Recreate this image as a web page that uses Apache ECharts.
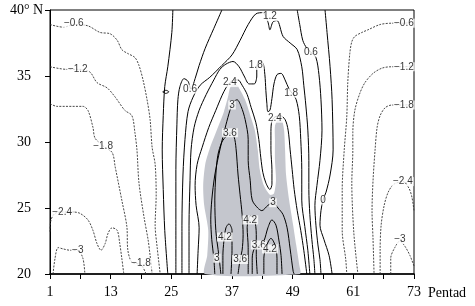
<!DOCTYPE html>
<html><head><meta charset="utf-8">
<script src="https://cdn.jsdelivr.net/npm/echarts@6/dist/echarts.min.js"></script>
<style>html,body{margin:0;padding:0;background:#fff}#c{width:475px;height:306px}</style>
</head><body><div id="c"></div>
<script>
const pentadTicks = [1, 13, 25, 37, 49, 61, 73];
const latTicks = [20, 25, 30, 35, 40];

// contour lines, points as [pentad, latitude]
const cM30L = [[1.6,20],[2.0,21.2],[2.6,22.0],[3.6,21.9],[5.0,21.8],[6.5,21.8],[7.5,21.2],[7.9,20]];
const cM24L = [[1,23.2],[1.2,24.1],[2.0,24.6],[3.4,24.7],[5.4,24.7],[6.9,24.6],[8.5,24.1],[9.5,23.3],[10.3,22.3],[11.1,21.8],[11.9,22.3],[12.5,23.1],[13.3,23.5],[14.3,23.3],[14.8,22.3],[15.2,21.2],[15.6,20]];
const cM18L = [[1,32.9],[2.4,32.7],[7.5,32.7],[8.5,32.4],[9.5,31.1],[9.9,30.3],[11.5,29.7],[13.3,29.2],[13.9,28.1],[15.2,25.6],[16.2,23.6],[16.4,21.8],[17.2,20.9],[19.0,20.7],[20.0,20]];
const cM12L = [[1,35.7],[4.4,35.5],[6.9,35.5],[8.9,35.3],[10.3,34.5],[12.3,34.1],[13.9,33.4],[15.8,32.4],[17.2,32.0],[17.8,30.7],[18.2,29.4],[18.6,26.9],[19.6,24.3],[20.4,22.6],[20.8,21.4],[21.2,20]];
const cM06L = [[1,38.9],[3.6,38.7],[5.9,38.9],[8.5,38.8],[10.9,38.3],[12.9,38.2],[14.3,37.7],[15.2,37.0],[16.4,36.7],[17.8,36.4],[18.6,35.8],[19.4,34.7],[20.2,33.2],[20.8,31.7],[21.2,29.6],[21.8,28.3],[22.0,26.0],[21.8,23.7],[22.2,22.0],[22.8,20]];
const cM06R = [[73,39.1],[71.0,39.0],[68.6,39.0],[66.3,38.9],[63.9,38.5],[62.7,38.3],[61.3,38.0],[60.7,37.6],[60.3,36.7],[59.9,34.5],[59.7,31.9],[59.2,29.4],[58.8,26.4],[58.8,23.3],[59.5,21.1],[59.7,20]];
const cM12R = [[73,35.8],[71.0,35.7],[68.6,35.7],[66.7,35.6],[64.9,35.2],[63.3,34.5],[62.3,33.7],[61.3,32.4],[60.9,30.7],[60.9,29.4],[60.7,26.9],[61.1,23.1],[61.9,20]];
const cM18R = [[73,32.9],[71.0,32.8],[68.6,32.8],[67.3,32.6],[66.3,32.0],[65.7,31.1],[65.3,29.4],[64.9,27.1],[64.7,24.8],[64.9,22.6],[65.1,20]];
const cM24R = [[66.3,20],[66.3,21.8],[66.5,23.7],[67.1,25.2],[67.9,26.2],[69.0,26.8],[70.8,27.0],[72.0,26.5],[72.6,25.8],[73,24.8]];
const cM30R = [[68.4,20],[68.4,21.2],[69.2,22.0],[70.2,22.5],[71.2,22.1],[72.2,21.4],[73,20.6]];
const c0L = [[25.3,40],[25.1,38.3],[24.3,35.7],[23.7,34.2],[23.4,32.0],[23.2,29.4],[23.4,26.4],[23.7,23.3],[24.3,20]];
const c0Loop = [[23.3,33.8],[23.9,33.92],[24.5,33.8],[23.9,33.68],[23.3,33.8]];
const c0R = [[55.4,40],[55.8,38.3],[56.4,35.7],[56.8,33.2],[57.0,29.4],[56.4,27.5],[55.6,26.2],[55.0,25.6],[54.6,24.8],[54.4,23.7],[55.2,22.6],[56.2,21.4],[56.8,20]];
const c06L = [[25.9,20],[25.9,24.1],[25.9,27.9],[26.1,31.3],[26.3,33.2],[26.7,34.2],[27.5,34.8],[28.3,34.6],[28.9,34.0],[29.7,34.8],[30.5,35.8],[31.7,37.1],[33.4,38.6],[35.0,40]];
const c06R = [[49.9,40],[50.4,38.9],[51.0,37.7],[51.8,37.1],[52.6,36.8],[53.6,36.4],[54.2,35.1],[54.6,33.2],[54.8,30.9],[54.4,28.6],[53.8,26.7],[53.4,25.2],[53.6,23.7],[54.0,22.2],[54.4,21.1],[54.6,20]];
const c12 = [[27.1,20],[27.1,23.7],[27.3,27.5],[27.7,30.2],[28.3,32.3],[29.3,33.4],[30.7,34.3],[32.6,34.9],[35.0,35.8],[37.0,36.6],[38.6,37.7],[40.2,38.9],[41.7,39.7],[43.1,39.8],[44.1,39.1],[44.5,38.5],[45.1,39.1],[45.9,39.2],[47.1,38.0],[48.5,37.5],[49.9,37.0],[50.8,35.7],[51.2,34.3],[51.6,32.8],[52.0,30.9],[52.2,28.6],[52.2,26.4],[52.4,24.5],[52.8,22.6],[53.2,21.1],[53.4,20]];
const c18 = [[28.5,20],[28.5,23.7],[28.7,27.1],[28.9,29.4],[29.5,31.1],[30.5,32.4],[31.9,33.6],[33.4,34.7],[34.6,35.5],[35.8,35.9],[37.2,36.1],[38.4,35.7],[39.4,35.0],[40.4,34.4],[41.4,34.4],[41.9,35.0],[41.9,35.6],[42.3,36.1],[43.1,36.0],[43.5,35.1],[43.7,33.9],[43.9,32.9],[44.1,32.3],[44.5,32.4],[44.9,33.3],[45.3,34.4],[45.9,35.1],[46.7,35.2],[47.5,34.7],[48.3,34.0],[48.9,33.7],[49.7,33.2],[50.3,32.0],[50.6,30.2],[50.8,27.9],[50.8,25.6],[51.4,23.6],[52.0,21.8],[52.4,20]];
const c24 = [[30.1,20],[30.3,21.8],[30.5,23.5],[29.9,25.2],[29.7,26.7],[30.1,28.3],[31.1,29.6],[32.4,31.1],[33.8,32.4],[35.0,33.5],[35.8,34.1],[36.6,34.5],[37.4,34.7],[38.2,34.7],[39.0,34.3],[40.0,33.6],[40.8,32.6],[41.7,31.5],[42.3,30.2],[42.7,28.8],[43.1,27.7],[43.7,26.9],[44.5,26.4],[44.9,26.8],[44.9,27.9],[44.7,29.4],[44.7,30.8],[44.9,31.6],[45.5,31.9],[46.5,32.0],[47.5,31.7],[48.1,30.9],[48.5,29.4],[48.9,27.9],[49.3,26.4],[49.9,24.8],[50.6,23.3],[51.2,21.8],[51.8,20]];
const c30 = [[33.6,20],[33.4,21.2],[33.0,22.6],[32.8,24.1],[33.0,25.6],[33.6,27.5],[34.6,29.4],[35.8,31.3],[36.6,32.4],[37.2,33.0],[38.0,33.2],[38.8,32.7],[39.6,31.7],[40.2,30.2],[40.2,28.6],[40.6,27.1],[41.0,25.6],[42.1,25.0],[42.9,24.8],[44.1,25.2],[45.1,25.4],[46.1,25.0],[47.1,24.5],[47.9,23.5],[48.5,21.9],[49.1,20.2],[49.3,20]];
const c36a = [[34.8,20],[34.4,21.4],[33.8,23.3],[33.6,25.6],[33.8,27.5],[34.2,29.0],[35.0,30.0],[36.0,30.5],[36.6,30.7],[37.4,30.4],[37.8,29.5],[38.2,27.5],[38.6,26.0],[39.0,24.5],[39.2,23.0],[39.0,21.8],[38.6,21.1],[38.2,20]];
const c36b = [[41.0,20],[41.0,21.2],[41.4,21.9],[42.3,22.1],[43.3,22.5],[44.1,23.5],[44.9,24.1],[45.7,23.7],[46.3,22.5],[46.7,21.4],[46.9,20]];
const c42a = [[35.2,20],[35.2,21.4],[35.4,22.5],[35.8,23.5],[36.4,23.8],[37.0,23.3],[37.0,21.8],[36.8,20]];
const c42b = [[40.2,20],[40.2,22.0],[40.0,23.5],[40.6,24.4],[41.4,24.2],[41.8,23.0],[41.8,21.5],[42.0,20]];
const c42c = [[43.3,20],[43.3,21.2],[43.9,22.2],[44.7,22.7],[45.5,22.2],[45.9,21.2],[45.9,20]];

// shaded area outline, [pentad, latitude]
const shade = [[31.7,20],[32.1,21.4],[32.3,23.3],[31.5,25.2],[31.3,26.7],[31.7,28.3],[32.6,29.5],[34.0,30.9],[35.4,32.3],[36.2,33.4],[36.6,34.1],[37.2,34.4],[38.0,34.3],[38.8,33.8],[39.8,33.0],[40.8,31.8],[41.5,30.9],[42.1,29.4],[42.5,27.9],[43.3,26.7],[44.5,26.0],[45.3,26.1],[45.7,27.1],[45.5,28.6],[45.5,30.2],[45.5,31.2],[46.1,31.7],[46.9,31.6],[47.3,30.9],[47.5,29.4],[47.7,27.5],[48.3,25.6],[49.1,23.7],[49.7,22.2],[50.3,20.7],[50.4,20]];

const contours = [
  [-3, cM30L], [-2.4, cM24L], [-1.8, cM18L], [-1.2, cM12L], [-0.6, cM06L],
  [-0.6, cM06R], [-1.2, cM12R], [-1.8, cM18R], [-2.4, cM24R], [-3, cM30R],
  [0, c0L], [0, c0Loop], [0, c0R], [0.6, c06L], [0.6, c06R], [1.2, c12], [1.8, c18],
  [2.4, c24], [3, c30], [3.6, c36a], [3.6, c36b], [4.2, c42a], [4.2, c42b], [4.2, c42c]
];

// contour labels: text, pentad, latitude
const labelText = ['−0.6','−1.2','−1.8','−2.4','−3','−1.8','0.6','2.4','3','3.6','1.8','1.2','0.6','1.8','2.4','3','4.2','4.2','3.6','4.2','3','3.6','0','−0.6','−1.2','−1.8','−2.4','−3'];
const labelPentad = [5.7,6.5,11.5,3.4,6.5,19.0,28.7,36.6,37.0,36.6,41.7,44.5,52.6,48.7,45.5,45.1,40.6,35.6,42.3,44.5,34.0,38.6,55.0,71.0,71.0,71.0,70.8,70.2];
const labelLat = [39.0,35.5,29.7,24.7,21.8,20.8,34.0,34.5,32.8,30.7,35.8,39.5,36.8,33.7,31.8,25.4,24.1,22.8,22.2,21.9,21.2,21.1,25.6,39.0,35.7,32.8,27.0,22.6];

const chart = echarts.init(document.getElementById('c'), null, {renderer: 'canvas'});
const serif = 'Liberation Serif';
const series = [];
series.push({
  type: 'custom', silent: true, z: 1,
  data: [[0, 20]],
  renderItem: (params, api) => ({
    type: 'polygon',
    shape: {points: shade.map(q => api.coord([q[0] - 1, q[1]])), smooth: 0.25},
    style: {fill: '#c4c6cd'}
  })
});
contours.forEach(([v, pts]) => {
  series.push({
    type: 'line', z: 2, silent: true, symbol: 'none', smooth: 0.3,
    data: pts.map(q => [q[0] - 1, q[1]]),
    lineStyle: v < 0 ? {color: '#333', width: 0.9, type: [2, 1.3]} : {color: '#000', width: 1}
  });
});
series.push({
  type: 'scatter', z: 5, silent: true, symbol: 'rect', symbolSize: 0.1,
  itemStyle: {color: 'rgba(0,0,0,0)'},
  data: labelText.map((t, i) => ({name: t, value: [labelPentad[i] - 1, labelLat[i]]})),
  label: {show: true, position: 'inside', formatter: p => p.name, color: '#000',
    fontFamily: 'Liberation Sans', fontSize: 10, backgroundColor: '#fff', padding: [0, 1, -1, 1], lineHeight: 10}
});

chart.setOption({
  animation: false,
  grid: {left: 50, top: 10, width: 364, height: 264, show: true, borderColor: '#000', borderWidth: 1},
  xAxis: {
    type: 'value', min: 0, max: 72, interval: 6,
    axisLine: {lineStyle: {color: '#000', width: 1.6}},
    axisTick: {length: 5, lineStyle: {color: '#000'}},
    splitLine: {show: false},
    axisLabel: {formatter: v => pentadTicks.includes(v + 1) ? String(v + 1) : '', fontFamily: serif, fontSize: 14, color: '#000', margin: 11},
    name: 'Pentad', nameLocation: 'end', nameGap: 14,
    nameTextStyle: {fontFamily: serif, fontSize: 14, color: '#000', verticalAlign: 'top', padding: [12, 0, 0, 0]}
  },
  yAxis: {
    type: 'value', min: 20, max: 40, interval: 5,
    axisLine: {show: true, lineStyle: {color: '#000', width: 1}},
    axisTick: {show: true, length: 5, lineStyle: {color: '#000'}},
    splitLine: {show: false},
    axisLabel: {
      align: 'left', margin: 40, color: '#000', fontFamily: serif, fontSize: 14,
      formatter: v => latTicks.includes(v) ? (v === 40 ? '{n|40° N}' : '{p|' + v + '}') : '',
      rich: {n: {fontFamily: serif, fontSize: 14, color: '#000'}, p: {fontFamily: serif, fontSize: 14, color: '#000', padding: [0, 0, 0, 7]}}
    }
  },
  series: series
});
</script>
</body></html>
